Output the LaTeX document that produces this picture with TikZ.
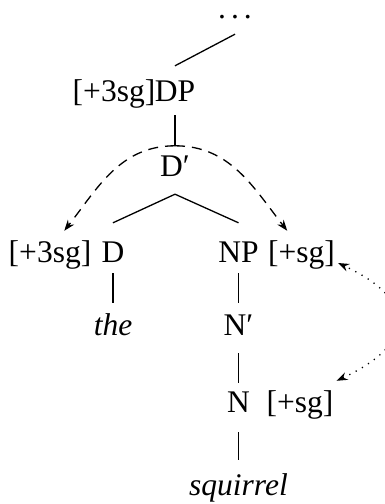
\documentclass[tikz,border=0pt]{standalone}
\usepackage{fontspec}
\setmainfont{Liberation Serif}
\usetikzlibrary{arrows.meta}
\tikzset{
  every node/.style={font=\fontsize{31.5}{37}\selectfont},
  cat/.style 2 args={anchor=base, inner ysep=0pt, inner xsep=10pt, text height=#1, text depth=#2},
  feat/.style={anchor=base, text height=23pt, text depth=8pt, inner ysep=9pt, inner xsep=3pt},
  branch/.style={line width=1.3pt},
  agree/.style={-{Stealth[length=11pt,width=8pt]}, line width=1.3pt, dash pattern=on 10pt off 7pt},
  percolate/.style={{Stealth[length=11pt,width=8pt]}-{Stealth[length=11pt,width=8pt]}, line width=1.3pt, dash pattern=on 1.2pt off 6pt},
}

\begin{document}
\begin{tikzpicture}[x=1pt,y=1pt]
  \useasboundingbox (0,0) rectangle (385,504);
  % Tree nodes
  \node[cat={12pt}{15pt}] (dots) at (235,485) {.\kern5pt.\kern5pt.};
  \node[cat={36pt}{13pt}] (DP) at (175,402) {DP};
  \node[feat] (dpf) at (114,402) {[+3sg]};
  \node[cat={31pt}{17pt}] (Dbar) at (175,327) {D′};
  \node[feat] (f3sg) at (50,241) {[+3sg]};
  \node[cat={40pt}{10pt}] (D) at (113,241) {D};
  \node[cat={40pt}{10pt}] (NP) at (238.5,241) {NP};
  \node[feat] (fsgNP) at (301.5,241) {[+sg]};
  \node[cat={33pt}{10pt}] (the) at (113,168) {\textit{the}};
  \node[cat={33pt}{17pt}] (Nbar) at (238.5,168) {N′};
  \node[cat={30pt}{19pt}] (N) at (238.5,91) {N};
  \node[feat] (fsgN) at (300,91) {[+sg]};
  \node[cat={35pt}{8pt}] (squirrel) at (238.5,9) {\textit{squirrel}};
  % Branches
  \draw[branch] (dots.south) -- (DP.north);
  \draw[branch] (DP.south) -- (Dbar.north);
  \draw[branch] (Dbar.south) -- (D.north);
  \draw[branch] (Dbar.south) -- (NP.north);
  \draw[branch] (D.south) -- (the.north);
  \draw[branch] (NP.south) -- (Nbar.north);
  \draw[branch] (Nbar.south) -- (N.north);
  \draw[branch] (N.south) -- (squirrel.north);
  % Feature arrows
  \draw[agree] (Dbar.north) to[out=180, in=52] (f3sg.60);
  \draw[agree] (Dbar.north) to[out=0, in=128] (fsgNP.120);
  \draw[percolate] (fsgN.north east) to[out=25, in=-25, looseness=1.9] (fsgNP.base east);
\end{tikzpicture}
\end{document}
